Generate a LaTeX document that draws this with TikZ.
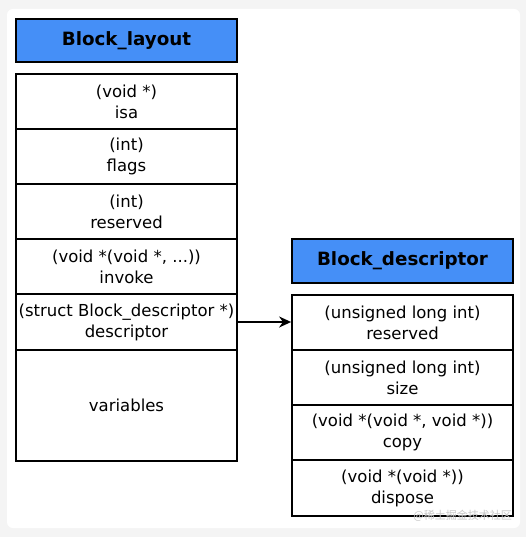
\documentclass[tikz,border=0pt]{standalone}
\usepackage{fontspec}
\setmainfont{DejaVu Sans}
\newfontfamily\cjkwm{Noto Sans CJK SC}
\usetikzlibrary{arrows.meta}
\definecolor{hdrblue}{RGB}{69,143,247}
\definecolor{pagegray}{RGB}{244,244,244}
\definecolor{wmgray}{RGB}{200,200,200}
\begin{document}
\begin{tikzpicture}[x=1pt,y=-1pt,
  cell/.style={draw=black, line width=1.8pt, fill=white, minimum width=221pt,
    inner sep=0pt, align=center, font=\fontsize{16.5}{21}\selectfont},
  hdr/.style={cell, fill=hdrblue, font=\fontsize{18.3}{21}\selectfont\bfseries},
  link/.style={line width=1.8pt, -{Stealth[length=12pt,width=11pt]}}]
\useasboundingbox (0,0) rectangle (526,537);
\fill[pagegray] (0,0) rectangle (526,537);
\fill[white, rounded corners=6pt] (7,9) rectangle (520,528);
% left column
\node[hdr, minimum height=43pt] (lh) at (126.5,40.5) {Block\_layout};
\node[cell, minimum height=55pt] (isa) at (126.5,101.5) {(void *)\\isa};
\node[cell, minimum height=55pt] (flags) at (126.5,156.5) {(int)\\flags};
\node[cell, minimum height=55pt] (res) at (126.5,211.5) {(int)\\reserved};
\node[cell, minimum height=55pt] (inv) at (126.5,266.5) {(void *(void *, ...))\\invoke};
\node[cell, minimum height=56pt] (desc) at (126.5,322) {(struct Block\_descriptor *)\\descriptor};
\node[cell, minimum height=111pt] (vars) at (126.5,405.5) {variables};
% right column
\node[hdr, minimum height=44pt] (rh) at (402.5,261) {Block\_descriptor};
\node[cell, minimum height=55pt] (dres) at (402.5,322.5) {(unsigned long int)\\reserved};
\node[cell, minimum height=55pt] (dsize) at (402.5,377.5) {(unsigned long int)\\size};
\node[cell, minimum height=55pt] (dcopy) at (402.5,432.5) {(void *(void *, void *))\\copy};
\node[cell, minimum height=56pt] (ddisp) at (402.5,488) {(void *(void *))\\dispose};
% connector
\draw[link] (desc.east) -- (dres.west |- desc.east);
% watermark
\node[text=wmgray, font=\cjkwm\fontsize{11}{13}\selectfont, anchor=east, inner sep=0pt] (wm) at (512,516) {@稀土掘金技术社区};
\end{tikzpicture}
\end{document}
